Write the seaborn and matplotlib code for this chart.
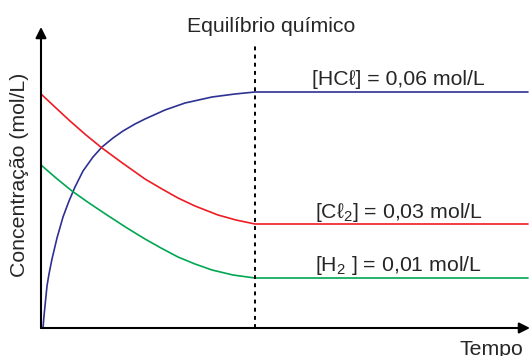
import matplotlib
matplotlib.use('Agg')
import matplotlib.pyplot as plt
import seaborn as sns
import numpy as np
import pandas as pd

# dados (tempo e concentração em unidades arbitrárias)
t_hcl = [2, 3, 4, 6, 8, 11, 16, 22, 28, 34, 42, 52, 61, 72, 82, 94, 104, 124, 144, 171, 194, 214, 487]
c_hcl = [0, 12, 22, 42, 54, 69, 90, 111, 127, 141, 157, 171, 181, 190, 197, 204, 209, 218, 225, 231, 234, 236, 236]

t_cl2 = [0, 15, 29, 45, 61, 80, 104, 121, 137, 154, 177, 195, 214, 487]
c_cl2 = [234, 220, 207, 193, 180, 166, 149, 139, 130, 122, 113, 108, 104, 104]

t_h2 = [0, 15, 31, 48, 66, 86, 104, 120, 137, 154, 171, 192, 214, 487]
c_h2 = [163, 150, 137, 125, 113, 100, 89, 80, 71, 64, 58, 53, 50, 50]

t_eq = 214
labels = ['[HCℓ] = 0,06 mol/L', '[Cℓ$_2$] = 0,03 mol/L', '[H$_2$ ] = 0,01 mol/L']
cores = {'HCl': '#2e3192', 'Cl2': '#ed1c24', 'H2': '#00a651'}

df = pd.concat([
    pd.DataFrame({'tempo': t_hcl, 'conc': c_hcl, 'especie': 'HCl'}),
    pd.DataFrame({'tempo': t_cl2, 'conc': c_cl2, 'especie': 'Cl2'}),
    pd.DataFrame({'tempo': t_h2, 'conc': c_h2, 'especie': 'H2'}),
])

sns.set_style('white')
plt.rcParams['font.family'] = ['Liberation Sans', 'DejaVu Sans']
plt.rcParams['mathtext.fontset'] = 'custom'
plt.rcParams['mathtext.rm'] = 'Liberation Sans'
plt.rcParams['mathtext.it'] = 'Liberation Sans'

W, H = 531, 356
fig = plt.figure(figsize=(W / 100, H / 100), dpi=100)
ax = fig.add_axes([41 / W, 28 / H, 489 / W, 301 / H])

sns.lineplot(data=df, x='tempo', y='conc', hue='especie', palette=cores,
             linewidth=1.2, legend=False, sort=False, estimator=None, ax=ax)
ax.plot([t_eq, t_eq], [0, 285], color='black', linestyle=(0, (2, 2.2)), linewidth=1.4)

ax.set_xlim(0, 489)
ax.set_ylim(0, 301)
ax.set_xticks([])
ax.set_yticks([])
ax.set_xlabel('')
ax.set_ylabel('')
for s in ax.spines.values():
    s.set_visible(False)

# eixos com setas
seta = dict(arrowstyle='-|>', color='black', lw=1.5, mutation_scale=16, shrinkA=0, shrinkB=0)
ax.annotate('', xy=(1, 0), xytext=(0, 0), xycoords='axes fraction', arrowprops=seta, annotation_clip=False)
ax.annotate('', xy=(0, 1), xytext=(0, 0), xycoords='axes fraction', arrowprops=seta, annotation_clip=False)

fs = 15.3
fig.text(271 / W, 1 - 32 / H, 'Equilíbrio químico', ha='center', va='baseline', fontsize=fs)
fig.text(398 / W, 1 - 85 / H, labels[0], ha='center', va='baseline', fontsize=fs)
fig.text(399 / W, 1 - 218 / H, labels[1], ha='center', va='baseline', fontsize=fs)
fig.text(398 / W, 1 - 271 / H, labels[2], ha='center', va='baseline', fontsize=fs)
fig.text(460 / W, 1 - 355 / H, 'Tempo', ha='left', va='baseline', fontsize=fs)
fig.text(20 / W, 1 - 175 / H, 'Concentração (mol/L)', ha='center', va='center',
         rotation=90, fontsize=fs)

fig.savefig('out.png', dpi=100)
